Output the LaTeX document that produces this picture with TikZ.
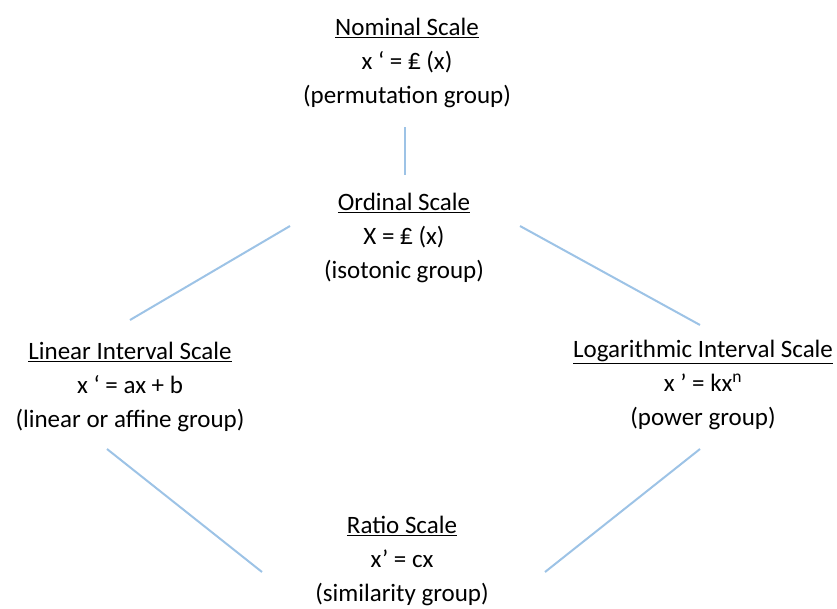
\documentclass[tikz,border=0pt]{standalone}
\usepackage{fontspec}
\setmainfont{Carlito}
\usepackage{tikz}
\usetikzlibrary{calc}
\definecolor{linkblue}{RGB}{157,195,230}
\tikzset{
  scalebox/.style = {align=center, inner sep=0pt, font=\fontsize{25}{34}\selectfont},
  link/.style = {draw=linkblue, line width=2pt},
}
\newcommand{\lira}{₤}

\begin{document}
\begin{tikzpicture}[x=1pt,y=-1pt]
\useasboundingbox (0,0) rectangle (837,608);
\node at(407,63) (Nom) [scalebox] {\underline{Nominal Scale}\\x ‘ = \lira{} (x)\\(permutation group)};
\node at(404,238) (Ord) [scalebox] {\underline{Ordinal Scale}\\X = \lira{} (x)\\(isotonic group)};
\node at(130,387) (Lin) [scalebox] {\underline{Linear Interval Scale}\\x ‘ = ax + b\\(linear or affine group)};
\node at(703,385) (Log) [scalebox] {\underline{Logarithmic Interval Scale}\\x ’ = kx\textsuperscript{n}\\(power group)};
\node at(402,561) (Rat) [scalebox] {\underline{Ratio Scale}\\x’ = cx\\(similarity group)};
\draw[link] ([shift={(-2,64)}]Nom.center) -- ([shift={(1,-63)}]Ord.center);
\draw[link] ([shift={(-114,-12)}]Ord.center) -- ([shift={(0,-67)}]Lin.center);
\draw[link] ([shift={(116,-12)}]Ord.center) -- ([shift={(-3,-60)}]Log.center);
\draw[link] ([shift={(-23,62)}]Lin.center) -- ([shift={(-140,11)}]Rat.center);
\draw[link] ([shift={(-3,64)}]Log.center) -- ([shift={(143,11)}]Rat.center);
\end{tikzpicture}
\end{document}
